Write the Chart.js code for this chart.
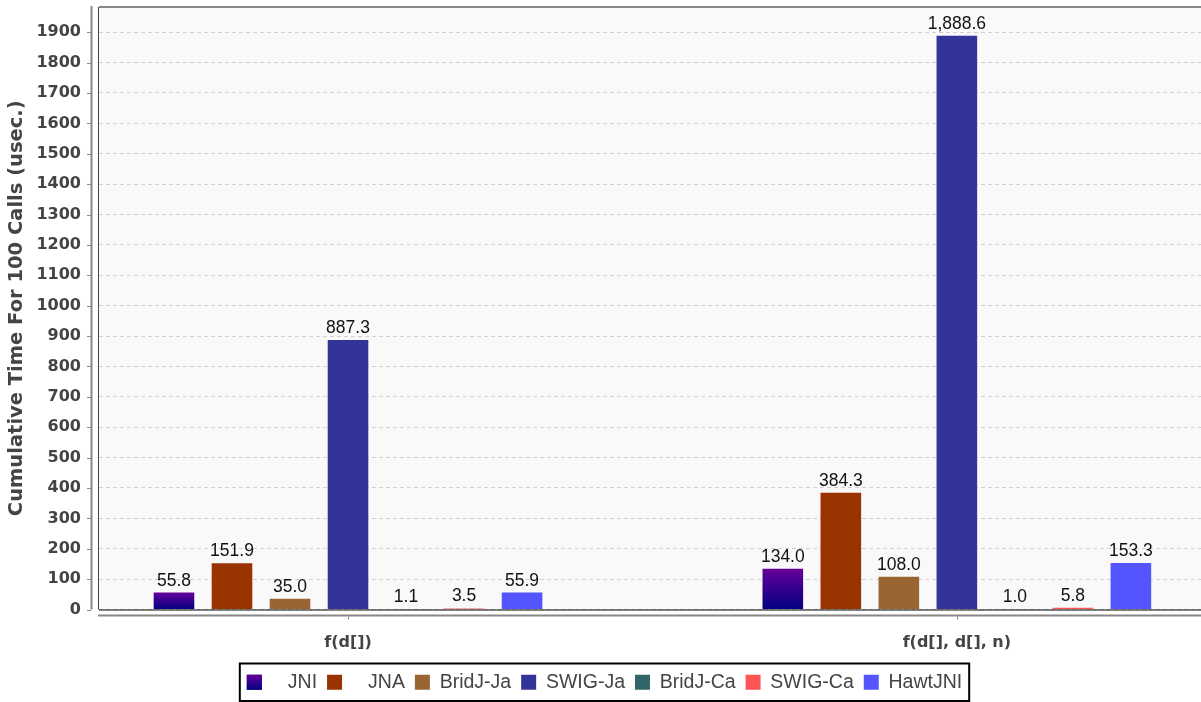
<!DOCTYPE html>
<html>
<head>
<meta charset="utf-8" />
<title>Cumulative Time For 100 Calls</title>
<script src="https://cdn.jsdelivr.net/npm/chart.js@4"></script>
<style>
  html, body { margin: 0; padding: 0; background: #fff; overflow: hidden; }
  #wrap { width: 1201px; height: 702px; }
</style>
</head>
<body>
<div id="wrap"><canvas id="chart"></canvas></div>
<script>
const categories = ["f(d[])", "f(d[], d[], n)"];
const seriesNames = ["   JNI", "   JNA", "BridJ-Ja", "SWIG-Ja", "BridJ-Ca", "SWIG-Ca", "HawtJNI"];
const jni = [55.8, 134.0];
const jna = [151.9, 384.3];
const bridjJa = [35.0, 108.0];
const swigJa = [887.3, 1888.6];
const bridjCa = [1.1, 1.0];
const swigCa = [3.5, 5.8];
const hawtJni = [55.9, 153.3];
const seriesValues = [jni, jna, bridjJa, swigJa, bridjCa, swigCa, hawtJni];
const colors = ["#3d0090", "#993300", "#996633", "#333399", "#336666", "#ff5555", "#5555ff"];

const axisGray = "#888888";
const textGray = "#444444";

// JNI bars use a purple -> navy gradient, top to bottom
const jniFill = (c) => {
  if (c.type !== "data" || !c.raw || !c.chart.scales.y) return colors[0];
  const y = c.chart.scales.y;
  const top = y.getPixelForValue(c.raw.y);
  const base = y.getPixelForValue(0);
  if (!isFinite(top) || !isFinite(base) || top === base) return colors[0];
  const g = c.chart.ctx.createLinearGradient(0, top, 0, base);
  g.addColorStop(0, "#660099");
  g.addColorStop(1, "#000080");
  return g;
};

const fmt = (v) =>
  v.toLocaleString("en-US", { minimumFractionDigits: 1, maximumFractionDigits: 1 });

const plotFrame = {
  id: "plotFrame",
  afterLayout(chart) {
    // legend sits a little right of the canvas centre
    chart.legend.left += 4;
    chart.legend.right += 4;
  },
  beforeDraw(chart) {
    const { ctx, chartArea: a } = chart;
    ctx.save();
    ctx.fillStyle = "#f9f9f9";
    ctx.fillRect(a.left, a.top, a.right - a.left, a.bottom - a.top);
    ctx.restore();
  },
  beforeDatasetsDraw(chart) {
    const { ctx, chartArea: a, scales } = chart;
    ctx.save();
    // frame of the plot
    ctx.lineWidth = 2;
    ctx.strokeStyle = axisGray;
    ctx.beginPath();
    ctx.moveTo(a.left, a.top);
    ctx.lineTo(a.right, a.top);
    ctx.stroke();
    ctx.lineWidth = 1;
    ctx.strokeStyle = "#444";
    ctx.beginPath();
    ctx.moveTo(a.left - 0.5, a.top);
    ctx.lineTo(a.left - 0.5, a.bottom);
    ctx.stroke();
    ctx.strokeStyle = "#000";
    ctx.beginPath();
    ctx.moveTo(a.left, a.bottom + 0.5);
    ctx.lineTo(a.right, a.bottom + 0.5);
    ctx.stroke();

    // y axis line, set off from the plot
    ctx.strokeStyle = axisGray;
    ctx.lineWidth = 2;
    ctx.beginPath();
    ctx.moveTo(a.left - 7.5, a.top - 1);
    ctx.lineTo(a.left - 7.5, a.bottom);
    ctx.stroke();
    ctx.lineWidth = 1;
    scales.y.ticks.forEach((t) => {
      const py = Math.round(scales.y.getPixelForValue(t.value)) + 0.5;
      ctx.beginPath();
      ctx.moveTo(a.left - 12, py);
      ctx.lineTo(a.left - 8, py);
      ctx.stroke();
    });

    // x axis line below the plot
    ctx.lineWidth = 2;
    ctx.beginPath();
    ctx.moveTo(a.left - 1, a.bottom + 6);
    ctx.lineTo(a.right, a.bottom + 6);
    ctx.stroke();
    ctx.lineWidth = 1;
    scales.x.ticks.forEach((t) => {
      const px = Math.round(scales.x.getPixelForValue(t.value)) + 0.5;
      ctx.beginPath();
      ctx.moveTo(px, a.bottom + 7);
      ctx.lineTo(px, a.bottom + 10);
      ctx.stroke();
    });
    ctx.restore();
  },
  afterDatasetsDraw(chart) {
    const { ctx } = chart;
    ctx.save();
    ctx.font = "17.5px 'Liberation Sans', Arial, sans-serif";
    ctx.fillStyle = "#111";
    ctx.textAlign = "center";
    ctx.textBaseline = "alphabetic";
    chart.data.datasets.forEach((ds, i) => {
      chart.getDatasetMeta(i).data.forEach((bar, j) => {
        ctx.fillText(fmt(ds.data[j].y), bar.x, bar.y - 7);
      });
    });
    ctx.restore();
  },
  afterDraw(chart) {
    const lg = chart.legend;
    const hb = lg.legendHitBoxes;
    if (!hb || !hb.length) return;
    const { ctx } = chart;
    ctx.save();
    // gradient box for JNI in the legend
    const fs = lg.options.labels.font.size;
    const bw = lg.options.labels.boxWidth;
    const bh = lg.options.labels.boxHeight;
    const bx = hb[0].left;
    const by = hb[0].top + Math.max((fs - bh) / 2, 0);
    const g = ctx.createLinearGradient(0, by, 0, by + bh);
    g.addColorStop(0, "#660099");
    g.addColorStop(1, "#000080");
    ctx.fillStyle = g;
    ctx.fillRect(bx, by, bw, bh);
    // border round the legend items
    const last = hb[hb.length - 1];
    const x0 = hb[0].left - 7;
    const x1 = last.left + last.width + 7;
    ctx.strokeStyle = "#000";
    ctx.lineWidth = 2;
    ctx.strokeRect(x0, lg.top + 1, x1 - x0, lg.height - 2);
    ctx.restore();
  },
};

const datasets = seriesNames.map((name, i) => ({
  label: name,
  data: seriesValues[i].map((v, k) => ({ x: k, y: v })),
  backgroundColor: i === 0 ? jniFill : colors[i],
  borderWidth: 0,
  categoryPercentage: 0.667,
  barPercentage: 0.7,
}));

new Chart(document.getElementById("chart"), {
  type: "bar",
  data: { datasets },
  plugins: [plotFrame],
  options: {
    responsive: true,
    maintainAspectRatio: false,
    animation: false,
    layout: { padding: { top: 7, left: 0, right: 0, bottom: 0 } },
    scales: {
      x: {
        type: "linear",
        offset: false,
        min: -0.409,
        max: 1.401,
        grid: { display: false, offset: false },
        border: { display: false },
        afterBuildTicks: (s) => {
          s.ticks = categories.map((c, i) => ({ value: i }));
        },
        afterFit: (s) => {
          s.height = 53;
          s.paddingLeft = 0;
          s.paddingRight = 0;
        },
        ticks: {
          autoSkip: false,
          maxRotation: 0,
          padding: 16,
          color: textGray,
          font: { family: "'DejaVu Sans'", size: 16, weight: "bold" },
          callback: (v) => categories[v],
        },
      },
      y: {
        min: 0,
        max: 1983,
        grid: {
          color: "#cfcfcf",
          drawTicks: false,
        },
        border: { display: false, dash: [4, 3] },
        afterFit: (s) => {
          s.width = 99;
          s.paddingTop = 0;
          s.paddingBottom = 0;
        },
        ticks: {
          stepSize: 100,
          includeBounds: false,
          padding: 18,
          color: textGray,
          font: { family: "'DejaVu Sans'", size: 16, weight: "bold" },
          callback: (v) => String(v),
        },
        title: {
          display: true,
          text: "Cumulative Time For 100 Calls (usec.)",
          color: textGray,
          padding: { top: 5, bottom: 4 },
          font: { family: "'DejaVu Sans'", size: 19.5, weight: "bold" },
        },
      },
    },
    plugins: {
      legend: {
        position: "bottom",
        labels: {
          boxWidth: 15,
          boxHeight: 15,
          padding: 10,
          color: textGray,
          font: { family: "'Liberation Sans', Arial, sans-serif", size: 19.5 },
        },
      },
      tooltip: { enabled: false },
    },
  },
});
</script>
</body>
</html>
